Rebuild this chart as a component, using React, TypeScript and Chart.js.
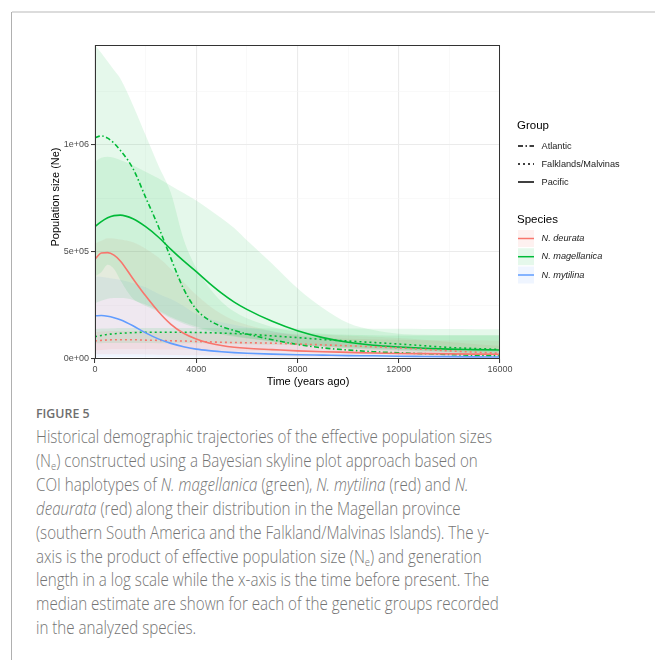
import React, { useEffect, useLayoutEffect, useRef, useState } from 'react';
import { Chart, registerables } from 'chart.js';

Chart.register(...registerables);

// time before present (years)
const TIME = [0, 250, 500, 750, 1000, 1500, 2000, 2500, 3000, 3500, 4000, 4500, 5000, 5500, 6000, 7000, 8000, 9000, 10000, 11000, 12000, 13000, 14000, 15000, 16000];

// medians (thousands)
const MAG_ATL_MED = [1034, 1042, 1032, 1008, 975, 890, 755, 620, 470, 328, 232, 182, 152, 133, 117, 90, 68, 52, 42, 34, 29, 25, 21, 17, 14];
const MAG_PAC_MED = [618, 642, 660, 670, 672, 655, 618, 570, 512, 458, 408, 356, 308, 266, 232, 176, 132, 100, 78, 64, 56, 50, 46, 44, 42];
const MAG_FAL_MED = [104, 110, 115, 118, 120, 123, 125, 125, 125, 125, 124, 123, 121, 119, 116, 108, 100, 91, 84, 77, 70, 62, 54, 49, 45];
const DEU_PAC_MED = [466, 495, 497, 485, 458, 375, 295, 222, 162, 120, 93, 75, 63, 55, 50, 44, 38, 34, 31, 28, 26, 25, 24, 23, 22];
const DEU_FAL_MED = [84, 87, 89, 90, 90, 90, 88, 87, 85, 84, 82, 80, 78, 77, 76, 74, 70, 66, 62, 57, 52, 45, 38, 32, 27];
const MYT_PAC_MED = [202, 203, 200, 193, 183, 155, 122, 94, 73, 57, 46, 39, 34, 30, 27, 23, 20, 18, 16, 15, 13, 12, 11, 10, 9];

// 95% intervals (thousands)
const MAG_ATL_HI = [1467, 1430, 1390, 1350, 1310, 1185, 1045, 905, 775, 560, 425, 335, 268, 222, 190, 150, 128, 118, 113, 111, 110, 110, 110, 110, 110];
const MAG_ATL_LO = [260, 272, 282, 285, 285, 276, 248, 222, 190, 165, 145, 128, 114, 104, 96, 82, 68, 57, 48, 42, 37, 33, 29, 26, 23];
const MAG_PAC_HI = [922, 940, 945, 940, 930, 905, 875, 845, 810, 775, 740, 700, 658, 612, 555, 445, 330, 238, 168, 135, 118, 113, 112, 112, 112];
const MAG_PAC_LO = [385, 405, 440, 420, 368, 282, 255, 228, 196, 172, 152, 135, 120, 108, 98, 82, 68, 58, 50, 45, 41, 38, 35, 33, 31];
const MAG_FAL_HI = [140, 142, 143, 144, 145, 145, 145, 145, 145, 145, 145, 145, 145, 144, 144, 143, 143, 142, 142, 141, 141, 140, 140, 139, 139];
const MAG_FAL_LO = [73, 74, 75, 75, 75, 75, 75, 74, 74, 73, 73, 72, 71, 70, 69, 67, 64, 60, 56, 50, 45, 38, 32, 26, 22];
const DEU_PAC_HI = [540, 552, 564, 563, 558, 545, 515, 475, 420, 360, 300, 250, 210, 180, 160, 130, 110, 100, 95, 92, 90, 88, 87, 86, 85];
const DEU_PAC_LO = [22, 22, 22, 22, 22, 22, 21, 20, 19, 18, 17, 16, 15, 14, 13, 12, 11, 10, 10, 9, 9, 8, 8, 8, 8];
const DEU_FAL_HI = [125, 128, 130, 131, 131, 131, 130, 129, 128, 127, 126, 125, 124, 123, 122, 120, 117, 113, 109, 104, 98, 90, 80, 70, 62];
const DEU_FAL_LO = [40, 42, 44, 45, 45, 45, 45, 44, 44, 43, 42, 41, 40, 39, 38, 36, 33, 30, 27, 24, 21, 18, 15, 12, 10];
const MYT_PAC_HI = [385, 384, 380, 375, 370, 355, 335, 305, 280, 248, 210, 188, 172, 160, 148, 130, 112, 96, 83, 72, 63, 56, 50, 46, 42];
const MYT_PAC_LO = [8, 8, 8, 8, 8, 8, 8, 7, 7, 7, 7, 6, 6, 6, 6, 5, 5, 5, 4, 4, 4, 4, 3, 3, 3];

const X_TICKS = [0, 2000, 4000, 6000, 8000, 10000, 12000, 14000, 16000];
const X_LABELED = [0, 4000, 8000, 12000, 16000];
const Y_TICKS = [0, 250000, 500000, 750000, 1000000, 1250000];
const Y_LABELS: Record<number, string> = { 0: '0e+00', 500000: '5e+05', 1000000: '1e+06' };
const Y_MAX = 1467000;

const GROUPS = ['Atlantic', 'Falklands/Malvinas', 'Pacific'];
const SPECIES = ['N. deurata', 'N. magellanica', 'N. mytilina'];

const GREEN = '#00BA38';
const RED = '#F8766D';
const BLUE = '#619CFF';
const DASH: Record<string, number[]> = {
  Atlantic: [5, 2.5, 1.5, 2.5],
  'Falklands/Malvinas': [2, 3],
  Pacific: [],
};

const FONT = "'Liberation Sans', Arial, Helvetica, sans-serif";

const pts = (arr: number[]) => TIME.map((t, i) => ({ x: t, y: arr[i] * 1000 }));
const rgba = (hex: string, a: number) => {
  const n = parseInt(hex.slice(1), 16);
  return `rgba(${(n >> 16) & 255},${(n >> 8) & 255},${n & 255},${a})`;
};

const RIBBON_ALPHA = 0.1;

function ribbon(hi: number[], lo: number[], color: string) {
  return [
    {
      data: pts(hi),
      borderWidth: 0,
      pointRadius: 0,
      backgroundColor: rgba(color, RIBBON_ALPHA),
      borderColor: 'transparent',
      fill: '+1',
      order: 1,
      cubicInterpolationMode: 'monotone' as const,
    },
    {
      data: pts(lo),
      borderWidth: 0,
      pointRadius: 0,
      borderColor: 'transparent',
      fill: false,
      order: 1,
      cubicInterpolationMode: 'monotone' as const,
    },
  ];
}

function medianLine(arr: number[], color: string, group: string) {
  return {
    data: pts(arr),
    borderWidth: 1.6,
    pointRadius: 0,
    borderColor: color,
    borderDash: DASH[group],
    fill: false,
    order: 0,
    cubicInterpolationMode: 'monotone' as const,
  };
}

const overlayPlugin = {
  id: 'overlay',
  afterDraw(chart: any) {
    const ctx: CanvasRenderingContext2D = chart.ctx;
    const { left, right, top, bottom } = chart.chartArea;
    ctx.save();
    // panel border
    ctx.strokeStyle = '#333333';
    ctx.lineWidth = 1;
    ctx.setLineDash([]);
    ctx.strokeRect(left + 0.5, top + 0.5, right - left - 1, bottom - top - 1);

    // axis titles
    ctx.fillStyle = '#000';
    ctx.font = `11px ${FONT}`;
    ctx.textAlign = 'center';
    ctx.textBaseline = 'middle';
    ctx.fillText('Time (years ago)', 308, 381.5);
    ctx.save();
    ctx.translate(56, 197);
    ctx.rotate(-Math.PI / 2);
    ctx.fillText('Population size (Ne)', 0, 0);
    ctx.restore();

    // legend: Group
    ctx.textAlign = 'left';
    ctx.font = `11.5px ${FONT}`;
    ctx.fillText('Group', 517, 126);
    const gy = [146, 164, 182];
    GROUPS.forEach((g, i) => {
      ctx.strokeStyle = '#000';
      ctx.lineWidth = 1.5;
      ctx.setLineDash(DASH[g]);
      ctx.beginPath();
      ctx.moveTo(518, gy[i]);
      ctx.lineTo(534, gy[i]);
      ctx.stroke();
      ctx.setLineDash([]);
      ctx.fillStyle = '#1a1a1a';
      ctx.font = `9.2px ${FONT}`;
      ctx.fillText(g, 541.5, gy[i]);
    });

    // legend: Species
    ctx.fillStyle = '#000';
    ctx.font = `11.5px ${FONT}`;
    ctx.fillText('Species', 517, 220);
    const sy = [238.5, 256.7, 275];
    const sc = [RED, GREEN, BLUE];
    SPECIES.forEach((s, i) => {
      ctx.fillStyle = rgba(sc[i], RIBBON_ALPHA);
      ctx.fillRect(518, sy[i] - 8.5, 16, 17);
      ctx.strokeStyle = sc[i];
      ctx.lineWidth = 1.5;
      ctx.beginPath();
      ctx.moveTo(518, sy[i]);
      ctx.lineTo(534, sy[i]);
      ctx.stroke();
      ctx.fillStyle = '#1a1a1a';
      ctx.font = `italic 9.2px ${FONT}`;
      ctx.fillText(s, 541.5, sy[i]);
    });
    ctx.restore();
  },
};

const SUB: React.CSSProperties = { fontSize: '0.62em', verticalAlign: 'baseline', position: 'relative', top: '0.3em' };

const CAPTION_LINES: React.ReactNode[] = [
  <>Historical demographic trajectories of the effective population sizes</>,
  <>(N<sub style={SUB}>e</sub>) constructed using a Bayesian skyline plot approach based on</>,
  <>COI haplotypes of <i>N. magellanica</i> (green), <i>N. mytilina</i> (red) and <i>N.</i></>,
  <><i>deaurata</i> (red) along their distribution in the Magellan province</>,
  <>(southern South America and the Falkland/Malvinas Islands). The y-</>,
  <>axis is the product of effective population size (N<sub style={SUB}>e</sub>) and generation</>,
  <>length in a log scale while the x-axis is the time before present. The</>,
  <>median estimate are shown for each of the genetic groups recorded</>,
  <>in the analyzed species.</>,
];

export default function App() {
  const canvasRef = useRef<HTMLCanvasElement>(null);
  const lineRef = useRef<HTMLSpanElement>(null);
  const [scale, setScale] = useState(0.8);

  useLayoutEffect(() => {
    if (lineRef.current) {
      const w = lineRef.current.offsetWidth;
      if (w > 0) setScale(456 / w);
    }
  }, []);

  useEffect(() => {
    if (!canvasRef.current) return;
    const datasets: any[] = [
      ...ribbon(MAG_ATL_HI, MAG_ATL_LO, GREEN),
      ...ribbon(MAG_PAC_HI, MAG_PAC_LO, GREEN),
      ...ribbon(MAG_FAL_HI, MAG_FAL_LO, GREEN),
      ...ribbon(DEU_PAC_HI, DEU_PAC_LO, RED),
      ...ribbon(DEU_FAL_HI, DEU_FAL_LO, RED),
      ...ribbon(MYT_PAC_HI, MYT_PAC_LO, BLUE),
      medianLine(MYT_PAC_MED, BLUE, 'Pacific'),
      medianLine(DEU_FAL_MED, RED, 'Falklands/Malvinas'),
      medianLine(DEU_PAC_MED, RED, 'Pacific'),
      medianLine(MAG_FAL_MED, GREEN, 'Falklands/Malvinas'),
      medianLine(MAG_PAC_MED, GREEN, 'Pacific'),
      medianLine(MAG_ATL_MED, GREEN, 'Atlantic'),
    ];
    const chart = new Chart(canvasRef.current, {
      type: 'line',
      data: { datasets },
      plugins: [overlayPlugin],
      options: {
        animation: false,
        responsive: false,
        maintainAspectRatio: false,
        layout: { padding: { left: 45, top: 45, right: 155, bottom: 1 } },
        plugins: { legend: { display: false }, tooltip: { enabled: false } },
        scales: {
          x: {
            type: 'linear',
            min: 0,
            max: 16000,
            afterBuildTicks: (s: any) => {
              s.ticks = X_TICKS.map((v) => ({ value: v }));
            },
            afterFit: (s: any) => {
              s.height = 40;
            },
            border: { display: false },
            grid: {
              color: (c: any) => (X_LABELED.includes(c.tick?.value) ? '#ebebeb' : '#f5f5f5'),
              lineWidth: (c: any) => (X_LABELED.includes(c.tick?.value) ? 1.1 : 0.6),
              tickColor: (c: any) => (X_LABELED.includes(c.tick?.value) ? '#333333' : 'rgba(0,0,0,0)'),
              tickLength: 4,
              tickWidth: 1,
            },
            ticks: {
              autoSkip: false,
              maxRotation: 0,
              padding: 1,
              color: '#4d4d4d',
              font: { family: FONT, size: 9 },
              callback: (v: any) => (X_LABELED.includes(Number(v)) ? String(v) : ''),
            },
          },
          y: {
            type: 'linear',
            min: 0,
            max: Y_MAX,
            afterBuildTicks: (s: any) => {
              s.ticks = Y_TICKS.map((v) => ({ value: v }));
            },
            afterFit: (s: any) => {
              s.width = 50;
            },
            border: { display: false },
            grid: {
              color: (c: any) => (Y_LABELS[c.tick?.value] ? '#ebebeb' : '#f5f5f5'),
              lineWidth: (c: any) => (Y_LABELS[c.tick?.value] ? 1.1 : 0.6),
              tickColor: (c: any) => (Y_LABELS[c.tick?.value] ? '#333333' : 'rgba(0,0,0,0)'),
              tickLength: 4,
              tickWidth: 1,
            },
            ticks: {
              autoSkip: false,
              padding: 2,
              color: '#4d4d4d',
              font: { family: FONT, size: 9 },
              callback: (v: any) => Y_LABELS[Number(v)] ?? '',
            },
          },
        },
      } as any,
    });
    return () => chart.destroy();
  }, []);

  return (
    <div style={{ position: 'absolute', left: 0, top: 0, width: 655, height: 660, overflow: 'hidden', background: '#fff' }}>
      <div style={{ position: 'absolute', left: 12, top: 11, right: 0, height: 0, borderTop: '2px solid #dcdcdc' }} />
      <div style={{ position: 'absolute', left: 11, top: 12, bottom: 0, width: 0, borderLeft: '1px solid #b0b0b0' }} />
      <canvas ref={canvasRef} width={655} height={400} style={{ position: 'absolute', left: 0, top: 0, width: 655, height: 400 }} />
      <div
        style={{
          position: 'absolute',
          left: 36,
          top: 405,
          fontFamily: "'Open Sans', sans-serif",
          fontSize: 13,
          fontWeight: 600,
          lineHeight: '16px',
          color: '#6e6e6e',
          whiteSpace: 'nowrap',
          transform: `scaleX(${Math.min(1, scale * 1.1)})`,
          transformOrigin: '0 0',
        }}
      >
        FIGURE 5
      </div>
      {CAPTION_LINES.map((l, i) => (
        <div
          key={i}
          style={{
            position: 'absolute',
            left: 36,
            top: 424 + i * 23.9,
            fontFamily: "'Open Sans', sans-serif",
            fontSize: 17.5,
            fontWeight: 300,
            lineHeight: '24px',
            color: '#747474',
            whiteSpace: 'nowrap',
            transform: `scaleX(${scale})`,
            transformOrigin: '0 0',
          }}
        >
          <span ref={i === 0 ? lineRef : undefined}>{l}</span>
        </div>
      ))}
    </div>
  );
}
